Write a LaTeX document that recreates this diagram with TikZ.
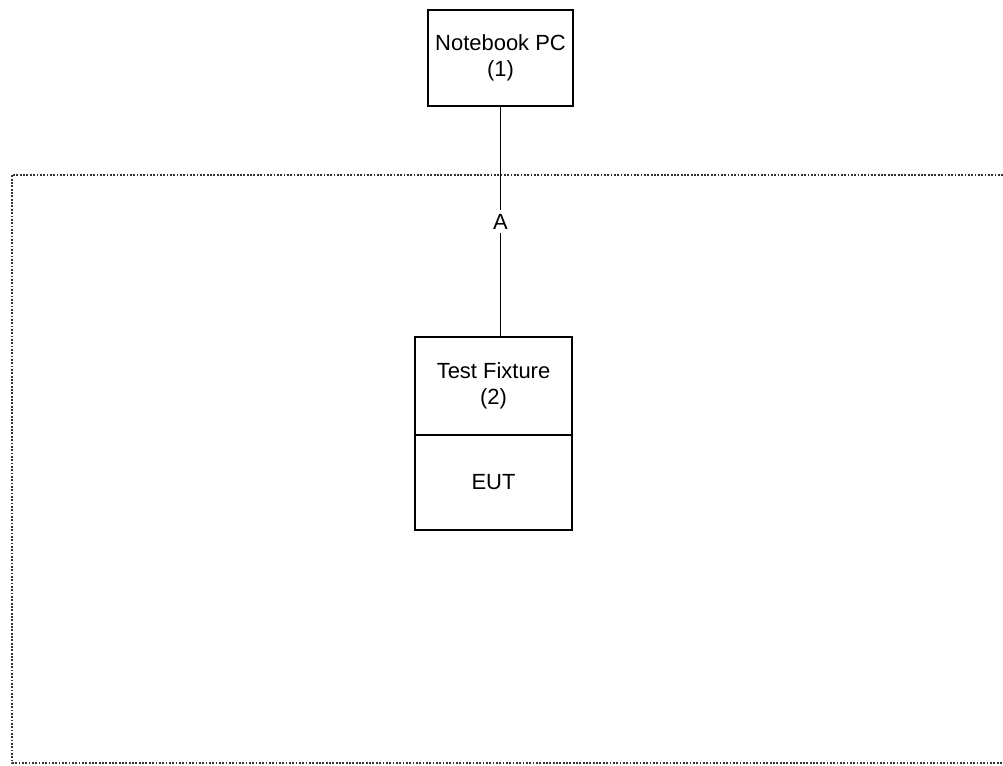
\documentclass[tikz,border=0pt]{standalone}
\usepackage{fontspec}
\setmainfont{Liberation Sans}
\usetikzlibrary{positioning}
\begin{document}
\begin{tikzpicture}[x=0.02cm,y=-0.02cm,font=\fontsize{12.5}{14.5}\selectfont,
 box/.style={draw,line width=1.1pt,fill=white,align=center,inner sep=0pt},
 area/.style={line width=1pt,dash pattern=on 1pt off 0.9pt,draw=black!80}]
\useasboundingbox (0,0) rectangle (1003,765);
\draw[area] (1003,175) -- (12,175) -- (12,763) -- (1003,763);
\node[box,minimum width=2.9cm,minimum height=1.92cm] (nb) at (500.5,58) {Notebook PC\\(1)};
\node[box,minimum width=3.14cm,minimum height=1.96cm] (tf) at (493.5,386) {Test Fixture\\(2)};
\node[box,minimum width=3.14cm,minimum height=1.9cm,below=-1.1pt of tf] (eut) {EUT};
\draw[line width=0.6pt] (nb.south) -- node[fill=white,inner sep=2pt] {A} (nb.south |- tf.north);
\end{tikzpicture}
\end{document}
